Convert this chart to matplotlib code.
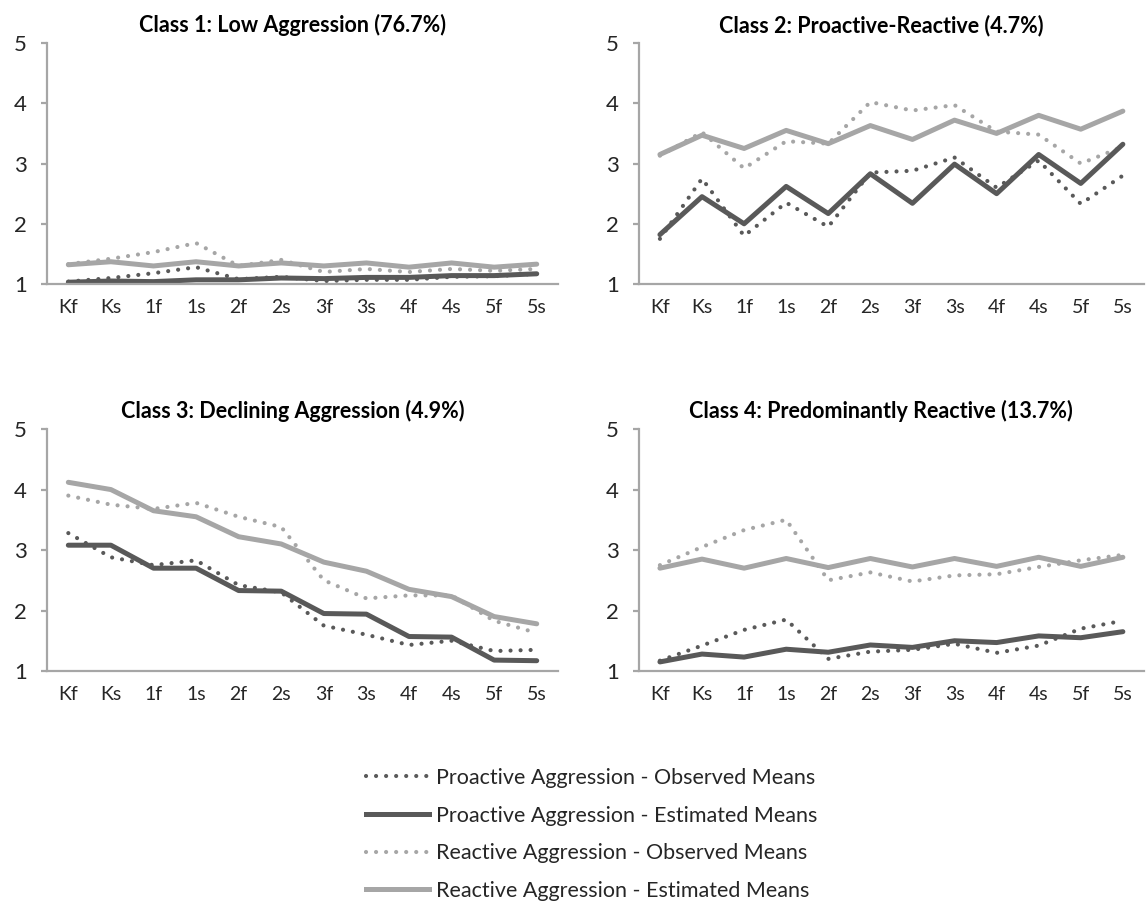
import matplotlib
matplotlib.use("Agg")
import matplotlib.pyplot as plt
from matplotlib.lines import Line2D

plt.rcParams["font.family"] = ["Lato", "DejaVu Sans"]

waves = ["Kf", "Ks", "1f", "1s", "2f", "2s", "3f", "3s", "4f", "4s", "5f", "5s"]

titles = [
    "Class 1: Low Aggression (76.7%)",
    "Class 2: Proactive-Reactive (4.7%)",
    "Class 3: Declining Aggression (4.9%)",
    "Class 4: Predominantly Reactive (13.7%)",
]

# per class: proactive observed / estimated, reactive observed / estimated
pro_obs = [
    [1.04, 1.10, 1.18, 1.28, 1.08, 1.12, 1.05, 1.07, 1.07, 1.12, 1.13, 1.17],
    [1.75, 2.75, 1.80, 2.35, 1.95, 2.85, 2.88, 3.10, 2.60, 3.05, 2.33, 2.80],
    [3.28, 2.88, 2.75, 2.83, 2.42, 2.30, 1.75, 1.60, 1.43, 1.50, 1.33, 1.35],
    [1.17, 1.42, 1.68, 1.85, 1.20, 1.32, 1.35, 1.45, 1.30, 1.42, 1.70, 1.83],
]
pro_est = [
    [1.03, 1.05, 1.04, 1.07, 1.07, 1.10, 1.09, 1.11, 1.11, 1.14, 1.14, 1.17],
    [1.82, 2.45, 2.00, 2.62, 2.17, 2.83, 2.34, 2.99, 2.50, 3.15, 2.67, 3.32],
    [3.08, 3.08, 2.70, 2.70, 2.33, 2.32, 1.95, 1.94, 1.57, 1.56, 1.18, 1.17],
    [1.15, 1.28, 1.23, 1.36, 1.31, 1.43, 1.39, 1.50, 1.47, 1.58, 1.55, 1.65],
]
re_obs = [
    [1.33, 1.42, 1.53, 1.68, 1.30, 1.40, 1.20, 1.25, 1.20, 1.25, 1.22, 1.25],
    [3.13, 3.52, 2.92, 3.37, 3.33, 4.02, 3.88, 3.97, 3.53, 3.48, 3.00, 3.28],
    [3.90, 3.75, 3.68, 3.78, 3.55, 3.38, 2.50, 2.20, 2.25, 2.25, 1.83, 1.63],
    [2.75, 3.05, 3.33, 3.50, 2.50, 2.63, 2.48, 2.58, 2.60, 2.72, 2.83, 2.92],
]
re_est = [
    [1.32, 1.37, 1.30, 1.37, 1.30, 1.35, 1.30, 1.35, 1.28, 1.35, 1.28, 1.33],
    [3.15, 3.47, 3.25, 3.55, 3.33, 3.63, 3.40, 3.72, 3.50, 3.80, 3.57, 3.87],
    [4.12, 4.00, 3.65, 3.55, 3.22, 3.10, 2.80, 2.65, 2.35, 2.23, 1.90, 1.78],
    [2.70, 2.85, 2.70, 2.86, 2.71, 2.86, 2.72, 2.86, 2.73, 2.88, 2.73, 2.88],
]

legend_labels = [
    "Proactive Aggression - Observed Means",
    "Proactive Aggression - Estimated Means",
    "Reactive Aggression - Observed Means",
    "Reactive Aggression - Estimated Means",
]

dark = "#595959"
light = "#a6a6a6"
axis_col = "#a6a6a6"
dots = (0, (0.01, 2.4))

fig = plt.figure(figsize=(11.47, 9.06), dpi=100)

boxes = [
    [0.041, 0.6865, 0.4455, 0.266],
    [0.557, 0.6865, 0.4403, 0.266],
    [0.041, 0.2594, 0.4455, 0.267],
    [0.557, 0.2594, 0.4403, 0.267],
]

x = list(range(len(waves)))
for i in range(4):
    ax = fig.add_axes(boxes[i])
    ax.plot(x, re_est[i], color=light, lw=3.6, solid_capstyle="round", solid_joinstyle="round")
    ax.plot(x, re_obs[i], color=light, lw=3.0, linestyle=dots, dash_capstyle="round")
    ax.plot(x, pro_est[i], color=dark, lw=3.6, solid_capstyle="round", solid_joinstyle="round")
    ax.plot(x, pro_obs[i], color=dark, lw=3.0, linestyle=dots, dash_capstyle="round")

    ax.set_xlim(-0.5, len(waves) - 0.5)
    ax.set_ylim(1, 5)
    ax.set_yticks([1, 2, 3, 4, 5])
    ax.set_xticks(x)
    ax.set_xticklabels(waves)
    for s in ["top", "right"]:
        ax.spines[s].set_visible(False)
    for s in ["left", "bottom"]:
        ax.spines[s].set_color(axis_col)
        ax.spines[s].set_linewidth(1.6)
    ax.tick_params(axis="y", length=4.5, width=1.6, color=axis_col, pad=10,
                   labelsize=16, labelcolor="#262626")
    ax.tick_params(axis="x", length=0, pad=11, labelsize=14, labelcolor="#262626")
    ax.set_title(titles[i], fontsize=15.5, fontweight="bold", pad=8, x=0.48)

handles = [
    Line2D([], [], color=dark, lw=3.0, linestyle=dots, dash_capstyle="round"),
    Line2D([], [], color=dark, lw=3.6),
    Line2D([], [], color=light, lw=3.0, linestyle=dots, dash_capstyle="round"),
    Line2D([], [], color=light, lw=3.6),
]
fig.legend(handles, legend_labels, loc="center", bbox_to_anchor=(0.516, 0.079),
           frameon=False, fontsize=15.5, handlelength=2.9, handletextpad=0.35,
           labelspacing=0.82, labelcolor="#262626")

fig.savefig("out.png", dpi=100)
